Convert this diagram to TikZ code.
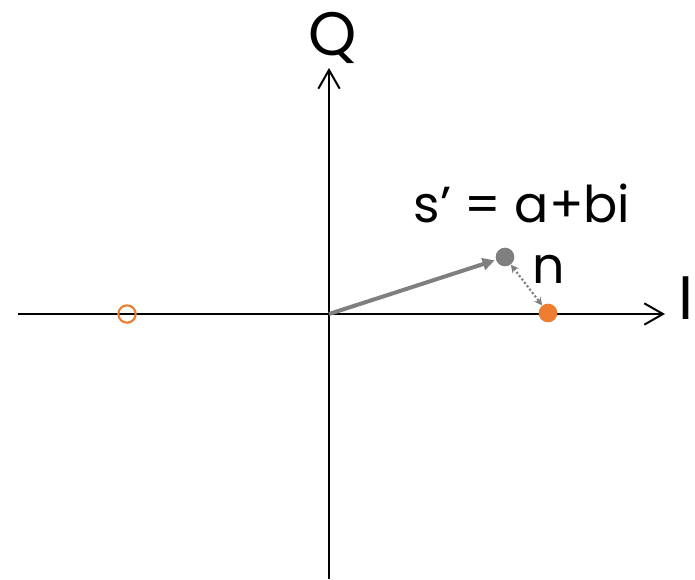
\documentclass[tikz,border=0pt]{standalone}
\usepackage{fontspec}
\setmainfont{Poppins}
\usetikzlibrary{arrows.meta}
\definecolor{ptorange}{HTML}{ED7D31}
\definecolor{vecgray}{HTML}{7F7F7F}
\tikzset{
    axis/.style={line width=1.5pt,-{Straight Barb[length=14pt,width=16pt,line width=1.5pt]}},
    dot/.style={circle,inner sep=0pt,minimum size=14pt},
    lbl/.style={font=\fontsize{38}{40}\selectfont,anchor=base,inner sep=0pt}
}
\begin{document}
\begin{tikzpicture}[x=0.75pt,y=-0.75pt]
    \useasboundingbox (0,0) rectangle (695,579);
    \coordinate (o) at (329,314);
    \coordinate (xl) at (18,314);
    \coordinate (xr) at (665,314);
    \coordinate (yb) at (329,579);
    \coordinate (yt) at (329,68);
    \draw[axis] (xl) -- (xr);
    \draw[axis] (yb) -- (yt);
    \node[lbl,font=\fontsize{46}{48}\selectfont] (qlab) at (333,55) {Q};
    \node[lbl,font=\fontsize{46}{48}\selectfont,anchor=base east] (ilab) at (694,319) {I};
    % points
    \node[dot,draw=ptorange,line width=1.6pt,minimum size=13pt] (mirror) at (127,314) {};
    \node[dot,fill=ptorange] (npt) at (548,313) {};
    \node[dot,fill=vecgray] (spt) at (505,257) {};
    \draw[vecgray,line width=3pt,-{Triangle[length=9pt,width=9pt]},shorten >=1pt] (o) -- (spt);
    \draw[vecgray,line width=1.6pt,dash pattern=on 1.6pt off 1.6pt,{Stealth[length=6pt,width=6pt]}-{Stealth[length=6pt,width=6pt]}] (spt) -- (npt);
    \node[lbl] (slab) at (522,222) {s’ = a+bi};
    \node[lbl] (nlab) at (549,283) {n};
\end{tikzpicture}
\end{document}
